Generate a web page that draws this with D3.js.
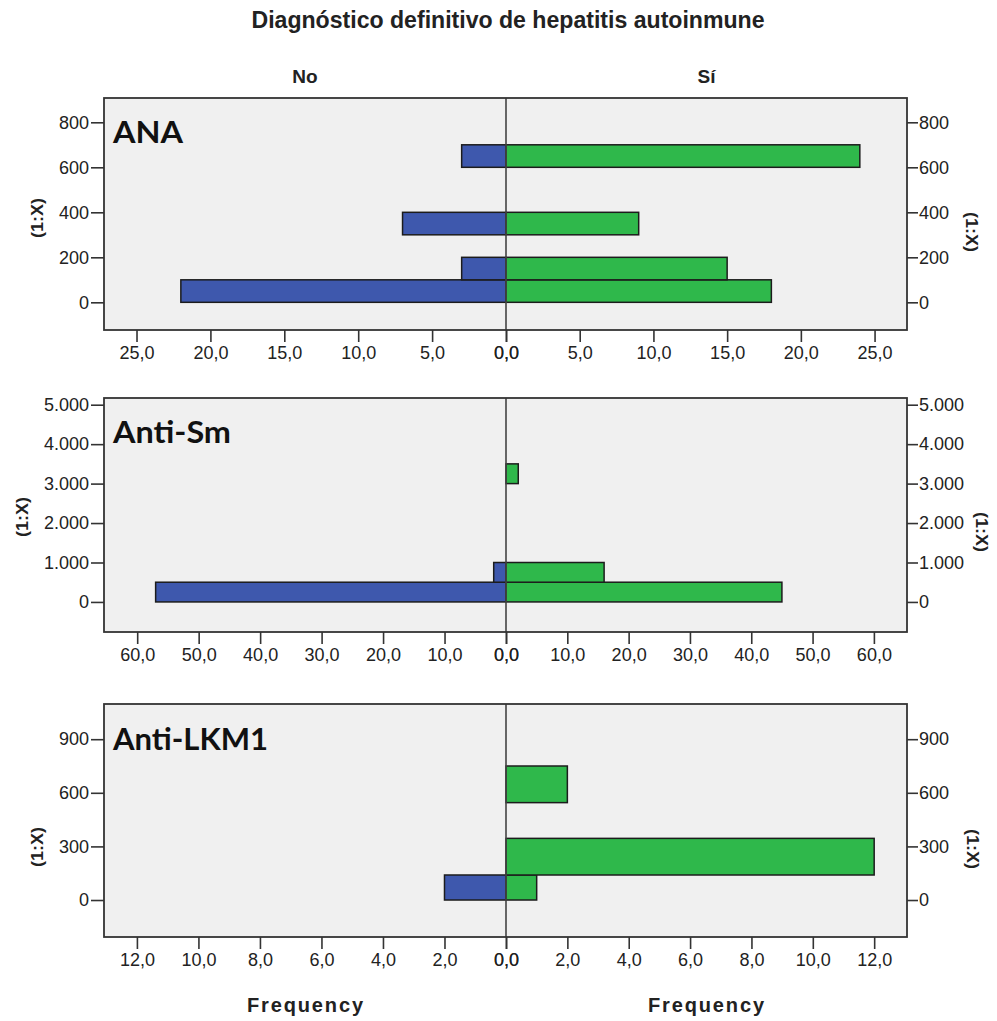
<!DOCTYPE html>
<html>
<head>
<meta charset="utf-8">
<script src="https://cdn.jsdelivr.net/npm/d3@7"></script>
<style>
  body { margin: 0; background: #fff; }
  svg { display: block; }
  text { font-family: "Liberation Sans", Arial, sans-serif; fill: #222; }
</style>
</head>
<body>
<svg id="chart" width="997" height="1021"></svg>
<script>
// data: histogram bins of (1:X) titre, counts per diagnosis
const anaBins = [[0, 100], [100, 200], [300, 400], [600, 700]];
const anaNo = [22, 3, 7, 3];
const anaSi = [18, 15, 9, 24];

const smBins = [[0, 500], [500, 1000], [3000, 3500]];
const smNo = [57, 2, 0];
const smSi = [45, 16, 2];

const lkmBins = [[0, 140], [140, 345], [545, 750]];
const lkmNo = [2, 0, 0];
const lkmSi = [1, 12, 2];

const anaYTicks = [0, 200, 400, 600, 800];
const smYTicks = [0, 1000, 2000, 3000, 4000, 5000];
const lkmYTicks = [0, 300, 600, 900];

const anaXTicks = [0, 5, 10, 15, 20, 25];
const smXTicks = [0, 10, 20, 30, 40, 50, 60];
const lkmXTicks = [0, 2, 4, 6, 8, 10, 12];

const groups = ['No', 'Sí'];
const title = 'Diagnóstico definitivo de hepatitis autoinmune';

const es = d3.formatLocale({decimal: ',', thousands: '.', grouping: [3], currency: ['', '€']});
const xFmt = es.format('.1f');
const yFmt = es.format(',d');

const left = 104, right = 907, mid = 506;
const blue = '#3e58ad', green = '#2fb84b';

const panels = [
    {name: 'ANA', bins: anaBins, no: anaNo, si: anaSi, yTicks: anaYTicks, xTicks: anaXTicks,
     top: 98, bottom: 330, yDom: [-123, 908], xMax: 27.2, labY: 143, labLen: 70,
     yl: 218, yr: 232, xl: 37, xr: 972},
    {name: 'Anti-Sm', bins: smBins, no: smNo, si: smSi, yTicks: smYTicks, xTicks: smXTicks,
     top: 398, bottom: 632, yDom: [-762, 5170], xMax: 65.4, labY: 443, labLen: 118,
     yl: 517, yr: 532, xl: 22, xr: 982},
    {name: 'Anti-LKM1', bins: lkmBins, no: lkmNo, si: lkmSi, yTicks: lkmYTicks, xTicks: lkmXTicks,
     top: 704, bottom: 937, yDom: [-207, 1097], xMax: 13.07, labY: 750, labLen: 155,
     yl: 847, yr: 849, xl: 37, xr: 973}
];

const svg = d3.select('#chart');

svg.append('text')
    .attr('x', 508).attr('y', 28)
    .attr('text-anchor', 'middle')
    .attr('textLength', 513).attr('lengthAdjust', 'spacingAndGlyphs')
    .style('font-size', '23px').style('font-weight', 'bold')
    .text(title);

svg.selectAll('text.group')
    .data(groups)
    .enter().append('text')
    .attr('class', 'group')
    .attr('x', (d, i) => i === 0 ? (left + mid) / 2 : (mid + right) / 2)
    .attr('y', 83)
    .attr('text-anchor', 'middle')
    .style('font-size', '19px').style('font-weight', 'bold')
    .text(d => d);

panels.forEach(p => {
    const g = svg.append('g');
    const y = d3.scaleLinear().domain(p.yDom).range([p.bottom, p.top]);
    const xl = d3.scaleLinear().domain([0, p.xMax]).range([mid, left]);
    const xr = d3.scaleLinear().domain([0, p.xMax]).range([mid, right]);

    g.append('rect')
        .attr('x', left).attr('y', p.top)
        .attr('width', right - left).attr('height', p.bottom - p.top)
        .attr('fill', '#f0f0f0');

    const rows = p.bins.map((b, i) => ({lo: b[0], hi: b[1], no: p.no[i], si: p.si[i]}));

    g.selectAll('rect.no')
        .data(rows.filter(d => d.no > 0))
        .enter().append('rect')
        .attr('class', 'no')
        .attr('x', d => xl(d.no))
        .attr('y', d => y(d.hi))
        .attr('width', d => mid - xl(d.no))
        .attr('height', d => y(d.lo) - y(d.hi))
        .attr('fill', blue).attr('stroke', '#1c1c1c').attr('stroke-width', 1.5);

    g.selectAll('rect.si')
        .data(rows.filter(d => d.si > 0))
        .enter().append('rect')
        .attr('class', 'si')
        .attr('x', mid)
        .attr('y', d => y(d.hi))
        .attr('width', d => xr(d.si) - mid)
        .attr('height', d => y(d.lo) - y(d.hi))
        .attr('fill', green).attr('stroke', '#1c1c1c').attr('stroke-width', 1.5);

    g.append('line')
        .attr('x1', mid).attr('x2', mid)
        .attr('y1', p.top).attr('y2', p.bottom)
        .attr('stroke', '#444').attr('stroke-width', 1.6);

    g.append('rect')
        .attr('x', left).attr('y', p.top)
        .attr('width', right - left).attr('height', p.bottom - p.top)
        .attr('fill', 'none').attr('stroke', '#333').attr('stroke-width', 1.8);

    const axes = [
        [d3.axisLeft(y).tickValues(p.yTicks).tickFormat(yFmt).tickSize(13).tickPadding(2), `translate(${left},0)`],
        [d3.axisRight(y).tickValues(p.yTicks).tickFormat(yFmt).tickSize(11).tickPadding(1), `translate(${right},0)`],
        [d3.axisBottom(xl).tickValues(p.xTicks).tickFormat(xFmt).tickSize(12).tickPadding(4), `translate(0,${p.bottom})`],
        [d3.axisBottom(xr).tickValues(p.xTicks).tickFormat(xFmt).tickSize(12).tickPadding(4), `translate(0,${p.bottom})`]
    ];
    axes.forEach(([ax, tr]) => {
        const a = g.append('g').attr('transform', tr).call(ax);
        a.select('.domain').remove();
        a.selectAll('line').attr('stroke', '#333').attr('stroke-width', 1.6);
        a.selectAll('text')
            .style('font-size', '18px')
            .style('font-family', '"Liberation Sans", Arial, sans-serif')
            .attr('fill', '#2a2a2a');
    });

    g.append('text')
        .attr('transform', `translate(${p.xl},${p.yl}) rotate(-90)`)
        .attr('dy', '0.35em')
        .attr('text-anchor', 'middle')
        .attr('textLength', 40).attr('lengthAdjust', 'spacingAndGlyphs')
        .style('font-size', '17px').style('font-weight', 'bold')
        .text('(1:X)');

    g.append('text')
        .attr('transform', `translate(${p.xr},${p.yr}) rotate(90)`)
        .attr('dy', '0.35em')
        .attr('text-anchor', 'middle')
        .attr('textLength', 40).attr('lengthAdjust', 'spacingAndGlyphs')
        .style('font-size', '17px').style('font-weight', 'bold')
        .text('(1:X)');

    g.append('text')
        .attr('x', 113).attr('y', p.labY)
        .attr('textLength', p.labLen).attr('lengthAdjust', 'spacingAndGlyphs')
        .style('font-family', 'Lato, "Open Sans", sans-serif')
        .style('font-size', '31px').style('font-weight', 'bold')
        .style('fill', '#111')
        .text(p.name);
});

svg.selectAll('text.freq')
    .data(groups)
    .enter().append('text')
    .attr('class', 'freq')
    .attr('x', (d, i) => i === 0 ? 305 : 706)
    .attr('y', 1012)
    .attr('text-anchor', 'middle')
    .attr('textLength', 116).attr('lengthAdjust', 'spacing')
    .style('font-size', '20px').style('font-weight', 'bold')
    .text('Frequency');
</script>
</body>
</html>
